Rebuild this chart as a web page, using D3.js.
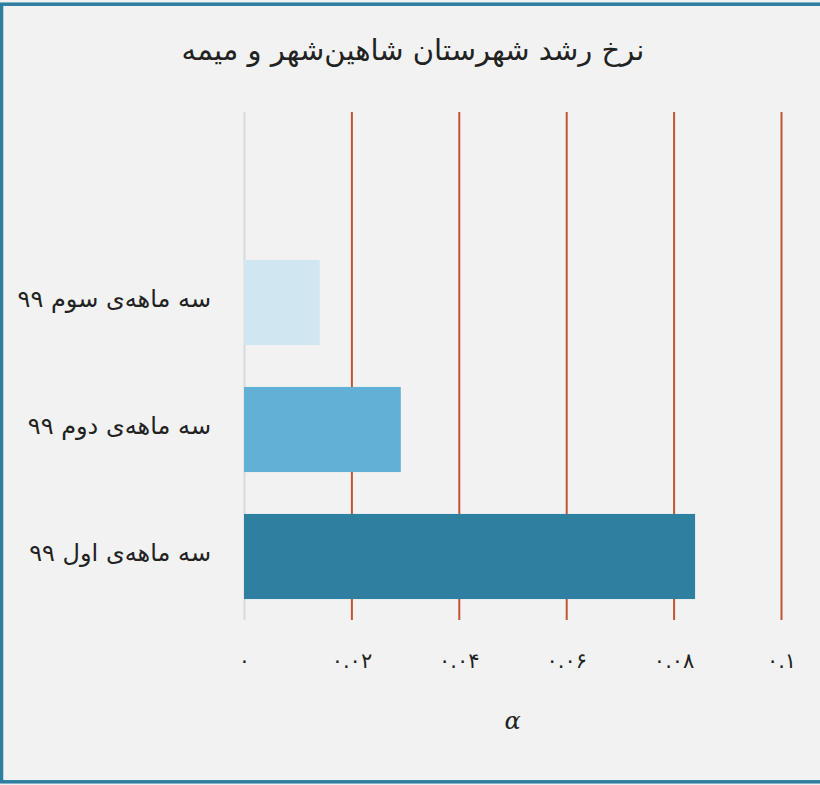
<!DOCTYPE html>
<html>
<head>
<meta charset="utf-8">
<script src="https://cdn.jsdelivr.net/npm/d3@7"></script>
<style>
  body { margin: 0; background: #f2f2f2; }
  svg { display: block; }
</style>
</head>
<body>
<div id="chart"></div>
<script>
// chart data
var categories = ["سه ماهه‌ی اول ۹۹", "سه ماهه‌ی دوم ۹۹", "سه ماهه‌ی سوم ۹۹", ""];
var values = [0.084, 0.0292, 0.0141, null];
var barColors = ["#2e7fa0", "#62b0d5", "#d0e6f1", "#f2f2f2"];
var tickValues = [0, 0.02, 0.04, 0.06, 0.08, 0.1];
var title = "نرخ رشد شهرستان شاهین‌شهر و میمه";
var axisTitle = "α";

var width = 820;
var height = 785;
var plot = {left: 244, right: 781, top: 112, bottom: 620};

var svg = d3.select("#chart").append("svg")
  .attr("width", width)
  .attr("height", height);

// background + frame
svg.append("rect")
  .attr("x", 1.5).attr("y", 4.2)
  .attr("width", 830).attr("height", 777.6)
  .attr("fill", "#f2f2f2")
  .attr("stroke", "#2e7ea1")
  .attr("stroke-width", 3.5);

var x = d3.scaleLinear()
  .domain([0, 0.1])
  .range([plot.left, plot.right]);

var y = d3.scaleBand()
  .domain(categories)
  .range([plot.bottom, plot.top])
  .paddingInner(0.33)
  .paddingOuter(0.165);

// persian digits
function fa(s) {
  return s.replace(/[0-9]/g, function(c) { return "۰۱۲۳۴۵۶۷۸۹"[+c]; });
}

// gridlines
var grid = svg.append("g")
  .attr("transform", "translate(0," + plot.bottom + ")")
  .call(d3.axisBottom(x).tickValues(tickValues).tickSize(-(plot.bottom - plot.top)).tickFormat(""));
grid.select(".domain").remove();
grid.selectAll(".tick line")
  .attr("stroke", function(d) { return d === 0 ? "#d9d9d9" : "#c0552f"; })
  .attr("stroke-width", 2);

// bars
svg.selectAll(".bar")
  .data(categories.map(function(c, i) { return {cat: c, val: values[i], color: barColors[i]}; })
    .filter(function(d) { return d.val !== null; }))
  .enter().append("rect")
  .attr("class", "bar")
  .attr("x", x(0))
  .attr("y", function(d) { return y(d.cat); })
  .attr("width", function(d) { return x(d.val) - x(0); })
  .attr("height", y.bandwidth())
  .attr("fill", function(d) { return d.color; });

// x axis labels
var xAxis = svg.append("g")
  .attr("transform", "translate(0," + plot.bottom + ")")
  .call(d3.axisBottom(x).tickValues(tickValues).tickSize(0).tickPadding(33)
    .tickFormat(function(d) { return fa(String(+d.toFixed(2))); }));
xAxis.select(".domain").remove();
xAxis.selectAll("text")
  .attr("font-family", "DejaVu Sans, sans-serif")
  .attr("font-size", 21)
  .attr("fill", "#222");

// y axis labels
var yAxis = svg.append("g")
  .attr("transform", "translate(" + plot.left + ",0)")
  .call(d3.axisLeft(y).tickSize(0).tickPadding(33));
yAxis.select(".domain").remove();
yAxis.selectAll("text")
  .attr("font-family", "DejaVu Sans, sans-serif")
  .attr("font-size", 24)
  .attr("dy", "0.2em")
  .attr("fill", "#222");

// title
svg.append("text")
  .attr("x", 413)
  .attr("y", 60)
  .attr("text-anchor", "middle")
  .attr("font-family", "DejaVu Sans, sans-serif")
  .attr("font-size", 29)
  .attr("fill", "#222")
  .text(title);

// axis title
svg.append("text")
  .attr("x", (plot.left + plot.right) / 2)
  .attr("y", 729)
  .attr("text-anchor", "middle")
  .attr("font-family", "DejaVu Serif, serif")
  .attr("font-style", "italic")
  .attr("font-size", 24)
  .attr("fill", "#222")
  .text(axisTitle);
</script>
</body>
</html>
